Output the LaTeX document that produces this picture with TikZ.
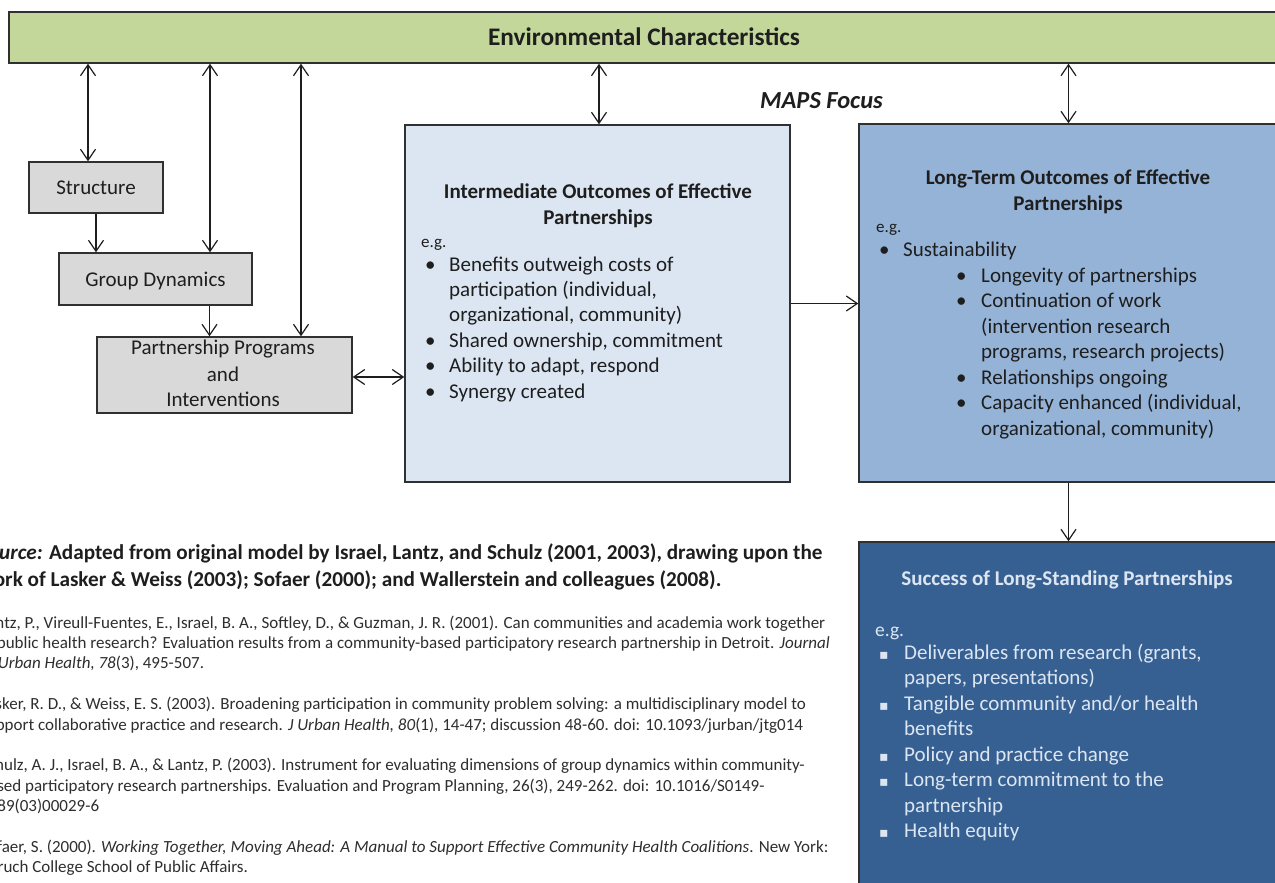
\documentclass[tikz,border=0pt]{standalone}
\usepackage{fontspec}
\setmainfont{Carlito}
\newfontfamily\symfont{DejaVu Sans}
\usetikzlibrary{arrows.meta}

\definecolor{envgreen}{HTML}{C4D79B}
\definecolor{boxgray}{HTML}{D9D9D9}
\definecolor{midblue}{HTML}{DCE6F2}
\definecolor{longblue}{HTML}{95B3D7}
\definecolor{darkblue}{HTML}{376092}
\definecolor{ink}{HTML}{1E1E1E}
\definecolor{refink}{HTML}{2E2E2E}
\definecolor{edge}{HTML}{303030}

\newcommand\fsz[1]{\fontsize{#1}{#1}\selectfont}

\begin{document}
\begin{tikzpicture}[x=1pt,y=-1pt,
  box/.style={draw=edge, line width=1.4pt, inner sep=0pt},
  link/.style={draw=ink, line width=1.2pt, >={Straight Barb[length=11pt,width=15pt]}},
  body/.style={inner sep=0pt, anchor=base west, text=ink, font=\fsz{21}},
  head/.style={inner sep=0pt, anchor=base, text=ink, font=\bfseries\fsz{21}},
  eg/.style={inner sep=0pt, anchor=base west, text=ink, font=\fsz{17}},
  light/.style={text=midblue},
  src/.style={inner sep=0pt, anchor=base west, text=ink, font=\bfseries\fsz{21.2}},
  ref/.style={inner sep=0pt, anchor=base west, text=refink, font=\fsz{17}}
]
\useasboundingbox (0,0) rectangle (1275,883);
\fill[white] (0,0) rectangle (1275,883);
\clip (0,0) rectangle (1275,883);

% ---- boxes ----
\node[box, fill=envgreen, minimum width=1272pt, minimum height=51pt] (env) at (645,37.5) {};
\node[box, fill=boxgray, minimum width=134pt, minimum height=51pt] (struct) at (96,187.5) {};
\node[box, fill=boxgray, minimum width=193pt, minimum height=52pt] (group) at (155.5,279) {};
\node[box, fill=boxgray, minimum width=255pt, minimum height=76pt] (prog) at (224.5,375) {};
\node[box, fill=midblue, minimum width=385pt, minimum height=357pt] (mid) at (597.5,303.5) {};
\node[box, fill=longblue, minimum width=419pt, minimum height=358pt] (long) at (1068.5,303) {};
\node[box, fill=darkblue, minimum width=419pt, minimum height=358pt] (success) at (1068.5,721) {};

% ---- connectors ----
\draw[link,<->] ([xshift=-8pt]struct.north |- env.south) -- ([xshift=-8pt]struct.north);
\draw[link,<->] ([xshift=54.5pt]group.north |- env.south) -- ([xshift=54.5pt]group.north);
\draw[link,<->] ([xshift=76.5pt]prog.north |- env.south) -- ([xshift=76.5pt]prog.north);
\draw[link,<->] ([xshift=1.5pt]mid.north |- env.south) -- ([xshift=1.5pt]mid.north);
\draw[link,<->] (long.north |- env.south) -- (long.north);
\draw[link,->] (struct.south) -- (struct.south |- group.north);
\draw[link,->] ([xshift=54pt]group.south) -- ([xshift=54pt]group.south |- prog.north);
\draw[link,<->] ([yshift=-2pt]prog.east) -- ([yshift=-2pt]prog.east -| mid.west);
\draw[link,->] (mid.east) -- (mid.east -| long.west);
\draw[link,->] (long.south) -- (success.north);

% ---- headings ----
\node[head, font=\bfseries\fsz{25.3}] (envtitle) at (644,46) {Environmental Characteristics};
\node[inner sep=0pt, anchor=base west, text=ink, font=\bfseries\itshape\fsz{24.5}] (maps) at (760,108) {MAPS Focus};

% ---- left column ----
\node[body, anchor=base] (structtxt) at (96,194) {Structure};
\node[body, anchor=base] (grouptxt) at (155.5,286) {Group Dynamics};
\node[body, anchor=base] (progtxt1) at (223,354) {Partnership Programs};
\node[body, anchor=base] (progtxt2) at (223,381) {and};
\node[body, anchor=base] (progtxt3) at (223,406) {Interventions};

% ---- intermediate outcomes ----
\node[head] (midtitle1) at (598,198) {Intermediate Outcomes of Effective};
\node[head] (midtitle2) at (598,224) {Partnerships};
\node[eg] (mideg) at (421,247) {e.g.};
\node[body] (midb1) at (425,271) {•};
\node[body] (midl1) at (449,271) {Benefits outweigh costs of};
\node[body] (midl2) at (449,296.4) {participation (individual,};
\node[body] (midl3) at (449,321.8) {organizational, community)};
\node[body] (midb4) at (425,347.2) {•};
\node[body] (midl4) at (449,347.2) {Shared ownership, commitment};
\node[body] (midb5) at (425,372.6) {•};
\node[body] (midl5) at (449,372.6) {Ability to adapt, respond};
\node[body] (midb6) at (425,398) {•};
\node[body] (midl6) at (449,398) {Synergy created};

% ---- long-term outcomes ----
\node[head] (longtitle1) at (1068,184) {Long-Term Outcomes of Effective};
\node[head] (longtitle2) at (1068,210) {Partnerships};
\node[eg] (longeg) at (876,232) {e.g.};
\node[body] (longb0) at (879,256) {•};
\node[body] (longl0) at (903,256) {Sustainability};
\node[body] (longb1) at (956,282) {•};
\node[body] (longl1) at (981,282) {Longevity of partnerships};
\node[body] (longb2) at (956,307.5) {•};
\node[body] (longl2) at (981,307.5) {Continuation of work};
\node[body] (longl3) at (981,333) {(intervention research};
\node[body] (longl4) at (981,358.5) {programs, research projects)};
\node[body] (longb5) at (956,384) {•};
\node[body] (longl5) at (981,384) {Relationships ongoing};
\node[body] (longb6) at (956,409.5) {•};
\node[body] (longl6) at (981,409.5) {Capacity enhanced (individual,};
\node[body] (longl7) at (981,435) {organizational, community)};

% ---- success of long-standing partnerships ----
\node[head, light] (succtitle) at (1067,585) {Success of Long-Standing Partnerships};
\node[body, light, font=\fsz{19.5}] (succeg) at (875,636) {e.g.};
\node[body, light, font=\symfont\fsz{14}] (succb1) at (879,659) {▪};
\node[body, light] (succl1) at (904,659) {Deliverables from research (grants,};
\node[body, light] (succl2) at (904,684.5) {papers, presentations)};
\node[body, light, font=\symfont\fsz{14}] (succb3) at (879,710) {▪};
\node[body, light] (succl3) at (904,710) {Tangible community and/or health};
\node[body, light] (succl4) at (904,735.5) {benefits};
\node[body, light, font=\symfont\fsz{14}] (succb5) at (879,761) {▪};
\node[body, light] (succl5) at (904,761) {Policy and practice change};
\node[body, light, font=\symfont\fsz{14}] (succb6) at (879,786.5) {▪};
\node[body, light] (succl6) at (904,786.5) {Long-term commitment to the};
\node[body, light] (succl7) at (904,812) {partnership};
\node[body, light, font=\symfont\fsz{14}] (succb8) at (879,837.5) {▪};
\node[body, light] (succl8) at (904,837.5) {Health equity};

% ---- source note ----
\node[src] (src1) at (-22,559) {\textit{Source:} Adapted from original model by Israel, Lantz, and Schulz (2001, 2003), drawing upon the};
\node[src] (src2) at (-22,586) {work of Lasker \& Weiss (2003); Sofaer (2000); and Wallerstein and colleagues (2008).};

% ---- references ----
\node[ref] (ref1a) at (-20,628) {Lantz, P., Vireull-Fuentes, E., Israel, B. A., Softley, D., \& Guzman, J. R. (2001). Can communities and academia work together};
\node[ref] (ref1b) at (-20,648.4) {in public health research? Evaluation results from a community-based participatory research partnership in Detroit. \textit{Journal}};
\node[ref] (ref1c) at (-20,668.8) {\textit{of Urban Health, 78}(3), 495-507.};
\node[ref] (ref2a) at (-20,709.6) {Lasker, R. D., \& Weiss, E. S. (2003). Broadening participation in community problem solving: a multidisciplinary model to};
\node[ref] (ref2b) at (-20,730) {support collaborative practice and research. \textit{J Urban Health, 80}(1), 14-47; discussion 48-60. doi: 10.1093/jurban/jtg014};
\node[ref] (ref3a) at (-20,770.8) {Schulz, A. J., Israel, B. A., \& Lantz, P. (2003). Instrument for evaluating dimensions of group dynamics within community-};
\node[ref] (ref3b) at (-20,791.2) {based participatory research partnerships. Evaluation and Program Planning, 26(3), 249-262. doi: 10.1016/S0149-};
\node[ref] (ref3c) at (-20,811.6) {7189(03)00029-6};
\node[ref] (ref4a) at (-20,852.4) {Sofaer, S. (2000). \textit{Working Together, Moving Ahead: A Manual to Support Effective Community Health Coalitions}. New York:};
\node[ref] (ref4b) at (-20,872.8) {Baruch College School of Public Affairs.};
\end{tikzpicture}
\end{document}
